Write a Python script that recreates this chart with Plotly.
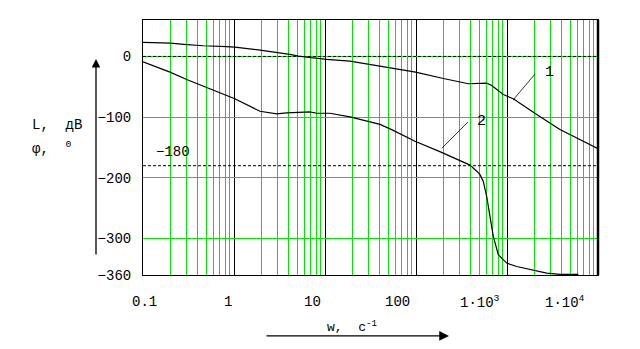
import plotly.graph_objects as go
import math

# ---- data ----
w_L = [0.1, 0.2, 0.28, 0.46, 0.83, 1.02, 1.93, 2.95, 4.12, 5.09, 6.84, 10.4, 18.8,
       47.7, 99, 200, 376, 598, 679, 910, 1172, 2120, 3820, 10000]
L_db = [23, 22, 20, 17.6, 16, 15.4, 10.4, 7.1, 3.3, 0.5, -2.2, -5, -7.7,
        -18.6, -25.9, -36.3, -45, -44, -47.9, -62.7, -69.8, -95.7, -120.5, -151.8]

w_phi = [0.1, 0.198, 0.302, 0.50, 0.83, 1.02, 1.93, 2.38, 2.95, 3.79, 6.84, 8.1, 11.3,
         18.8, 40.2, 54, 97.5, 191, 392, 465, 505, 549, 598, 650, 707, 802, 993, 1279,
         1946, 2731, 3820, 6080]
phi_deg = [-8.8, -25.9, -38, -51.7, -65.5, -69.8, -90.3, -93, -94.6, -93, -91.3, -93.6, -93.6,
           -99.5, -112, -120.5, -139.8, -158, -179, -189, -194.7, -205.8, -230.5, -263.5,
           -296.5, -326.7, -340.4, -346, -351.5, -357, -359, -359]

x_tick_vals = [0.1, 1, 10, 100, 1000, 10000]
x_tick_text = ["0.1", "1", "10", "100", "1·10<sup>3</sup>", "1·10<sup>4</sup>"]
x_label_shift = [1, -6, -13, -19, -27, -33]
y_tick_vals = [0, -100, -200, -300, -360]
ref_levels = [0, -180]
ref_label = ("−180", -158)
minor_vals = [m * 10 ** e for e in range(-1, 4) for m in range(2, 10)]

leader1_w = [2032, 1164]
leader1_v = [-29, -71.8]
leader2_w = [372, 193]
leader2_v = [-108, -151]
curve_labels = [("1", 2897, -25.7), ("2", 518, -106.4)]

GREEN = "#00e600"
FONT = "Liberation Mono"

fig = go.Figure()
fig.add_trace(go.Scatter(x=w_L, y=L_db, mode="lines",
                         line=dict(color="black", width=1.2), showlegend=False))
fig.add_trace(go.Scatter(x=w_phi, y=phi_deg, mode="lines",
                         line=dict(color="black", width=1.2), showlegend=False))
fig.add_trace(go.Scatter(x=leader1_w, y=leader1_v, mode="lines",
                         line=dict(color="black", width=0.8), showlegend=False))
fig.add_trace(go.Scatter(x=leader2_w, y=leader2_v, mode="lines",
                         line=dict(color="black", width=0.8), showlegend=False))

for v in ref_levels:
    fig.add_hline(y=v, line=dict(color="black", width=1, dash="3px,2px"))

# thicker right border
fig.add_shape(type="line", xref="paper", yref="paper", x0=1, x1=1, y0=0, y1=1,
              line=dict(color="black", width=2.5))

ann = []
for val, txt, sh in zip(x_tick_vals, x_tick_text, x_label_shift):
    ann.append(dict(x=math.log10(val), xref="x", y=-0.106, yref="paper", text=txt,
                    showarrow=False, xanchor="center", yanchor="middle", xshift=sh,
                    font=dict(family=FONT, size=14, color="black")))
for txt, wv, yv in curve_labels:
    ann.append(dict(x=math.log10(wv), xref="x", y=yv, yref="y", text=txt, showarrow=False,
                    xanchor="center", yanchor="middle",
                    font=dict(family=FONT, size=15, color="black")))
ann.append(dict(x=0.067, xref="paper", y=ref_label[1], yref="y", text=ref_label[0],
                showarrow=False, xanchor="center", yanchor="middle",
                font=dict(family=FONT, size=14, color="black")))
ann.append(dict(x=-0.248, xref="paper", y=0.588, yref="paper", text="L,  дВ",
                showarrow=False, xanchor="left", yanchor="middle",
                font=dict(family=FONT, size=14, color="black")))
ann.append(dict(x=-0.248, xref="paper", y=0.50, yref="paper", text="φ,  <sup>0</sup>",
                showarrow=False, xanchor="left", yanchor="middle",
                font=dict(family=FONT, size=14, color="black")))
ann.append(dict(x=0.40, xref="paper", y=-0.20, yref="paper", text="w,  c<sup>-1</sup>",
                showarrow=False, xanchor="left", yanchor="middle",
                font=dict(family=FONT, size=13, color="black")))
# axis arrows
ann.append(dict(x=-0.1033, xref="paper", y=0.847, yref="paper", text="", showarrow=True,
                ax=0, ay=197, arrowhead=2, arrowsize=1.3, arrowwidth=1.3,
                arrowcolor="black", standoff=0, startstandoff=0))
ann.append(dict(x=0.6725, xref="paper", y=-0.239, yref="paper", text="", showarrow=True,
                ax=-184, ay=0, arrowhead=2, arrowsize=1.5, arrowwidth=1.3,
                arrowcolor="black", standoff=0, startstandoff=0))

fig.update_layout(
    width=640, height=349,
    margin=dict(l=143, r=42, t=20, b=74),
    paper_bgcolor="white", plot_bgcolor="white",
    annotations=ann,
    xaxis=dict(type="log", range=[-1, 4], tickvals=x_tick_vals, showticklabels=False,
               ticks="", showgrid=True, gridcolor="black", gridwidth=1,
               minor=dict(tickvals=minor_vals, showgrid=True, gridcolor=GREEN,
                          gridwidth=1, ticks=""),
               showline=True, linecolor="black", linewidth=1, mirror=True,
               zeroline=False),
    yaxis=dict(range=[-360, 60], tickvals=y_tick_vals, ticks="", showgrid=True,
               gridcolor=GREEN, gridwidth=1, showline=True, linecolor="black",
               linewidth=1, mirror=True, zeroline=False, ticklabelstandoff=8,
               tickfont=dict(family=FONT, size=14, color="black")),
)

fig.write_html("out.html")
